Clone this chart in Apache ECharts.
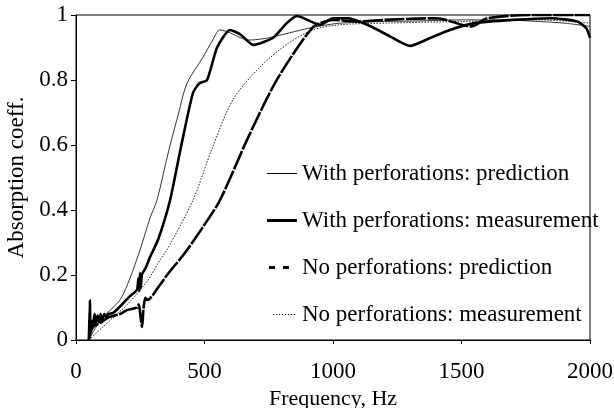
<!DOCTYPE html>
<html>
<head>
<meta charset="utf-8">
<script src="https://cdn.jsdelivr.net/npm/echarts@6/dist/echarts.min.js"></script>
<style>
html,body{margin:0;padding:0;background:#fff;}
#c{width:614px;height:408px;}
</style>
</head>
<body>
<div id="c"></div>
<script>
// Series names
const seriesNames = [
  'With perforations: prediction',
  'With perforations: measurement',
  'No perforations: prediction',
  'No perforations: measurement'
];
// With perforations: prediction (thin solid)
const wpPredF = [50, 70, 105, 171, 210, 249, 288, 315, 360, 400, 432, 494, 530, 560, 600, 640, 677, 750, 830, 910, 1027, 1200, 1350, 1500, 1650, 1800, 1900, 2000];
const wpPredA = [0, 0.03, 0.07, 0.123, 0.19, 0.277, 0.375, 0.43, 0.58, 0.7, 0.79, 0.87, 0.92, 0.954, 0.945, 0.93, 0.923, 0.93, 0.945, 0.96, 0.975, 0.98, 0.982, 0.985, 0.985, 0.98, 0.975, 0.965];
// With perforations: measurement (thick solid)
const wpMeasF = [50, 54, 56, 60, 66, 72, 78, 84, 90, 96, 102, 110, 118, 126, 144, 180, 210, 237, 243, 247, 249, 252, 256, 262, 270, 288, 320, 366, 410, 455, 480, 510, 549, 599, 640, 689, 767, 820, 860, 950, 1000, 1060, 1144, 1220, 1300, 1380, 1455, 1550, 1700, 1850, 1950, 1985, 2000];
const wpMeasA = [0, 0.123, 0.03, 0.06, 0.04, 0.08, 0.05, 0.075, 0.055, 0.08, 0.06, 0.08, 0.07, 0.08, 0.083, 0.11, 0.135, 0.154, 0.19, 0.15, 0.206, 0.16, 0.2, 0.21, 0.22, 0.255, 0.31, 0.43, 0.6, 0.76, 0.79, 0.8, 0.9, 0.954, 0.94, 0.908, 0.93, 0.975, 0.997, 0.97, 0.99, 0.99, 0.966, 0.935, 0.905, 0.93, 0.954, 0.975, 0.985, 0.99, 0.98, 0.96, 0.93];
// No perforations: prediction (thick dashed)
const npPredF = [50, 66, 100, 127, 171, 198, 237, 244, 250, 257, 263, 270, 276, 327, 354, 416, 444, 500, 560, 665, 767, 845, 922, 950, 1000, 1100, 1200, 1400, 1540, 1600, 1800, 2000];
const npPredA = [0, 0.04, 0.055, 0.07, 0.08, 0.092, 0.1, 0.11, 0.08, 0.04, 0.1, 0.13, 0.123, 0.17, 0.2, 0.26, 0.29, 0.355, 0.43, 0.615, 0.78, 0.88, 0.963, 0.975, 0.985, 0.98, 0.985, 0.99, 0.965, 0.99, 1.0, 1.0];
// No perforations: measurement (thin dotted)
const npMeasF = [50, 105, 132, 200, 276, 327, 354, 455, 530, 611, 716, 821, 922, 1027, 1200, 1500, 1800, 2000];
const npMeasA = [0, 0.04, 0.06, 0.11, 0.18, 0.246, 0.277, 0.43, 0.59, 0.74, 0.84, 0.91, 0.954, 0.97, 0.975, 0.98, 0.985, 0.975];
// Axis ticks
const xTicks = [0, 500, 1000, 1500, 2000];
const yTicks = [0, 0.2, 0.4, 0.6, 0.8, 1];

function pairs(f, a) { return f.map((v, i) => [v, a[i]]); }

const font = '"Liberation Serif", "Times New Roman", serif';
// legend icons: 30x14 boxes with the line drawn in the middle
const iconThin = 'path://M0,0M30,14M0,6.5H30V7.5H0Z';
const iconThick = 'path://M0,0M30,14M0,5.5H30V8.5H0Z';
const iconDash = 'path://M0,0M30,14M2,5.5H8V8.5H2ZM16,5.5H22V8.5H16Z';
let dots = 'path://M0,0M30,14';
for (let x = 6; x < 30; x += 3) dots += 'M' + x + ',6.5H' + (x + 1.2) + 'V7.5H' + x + 'Z';

const chart = echarts.init(document.getElementById('c'), null, {renderer: 'canvas'});
chart.setOption({
  animation: false,
  backgroundColor: '#fff',
  grid: {left: 76, right: 24, top: 15, bottom: 68, show: true, borderColor: '#000', borderWidth: 1,
         backgroundColor: 'transparent', containLabel: false, outerBoundsMode: 'none'},
  xAxis: {
    type: 'value', min: xTicks[0], max: xTicks[xTicks.length - 1], interval: 500,
    name: 'Frequency, Hz', nameLocation: 'middle', nameGap: 42,
    nameTextStyle: {fontFamily: font, fontSize: 22, color: '#000'},
    axisLine: {lineStyle: {color: '#000', width: 1}},
    axisTick: {show: true, length: 4, lineStyle: {color: '#000'}},
    axisLabel: {fontFamily: font, fontSize: 23, color: '#000', margin: 20, formatter: v => String(v)},
    splitLine: {show: false}
  },
  yAxis: {
    type: 'value', min: yTicks[0], max: yTicks[yTicks.length - 1], interval: 0.2,
    name: 'Absorption coeff.', nameLocation: 'middle', nameGap: 46,
    nameTextStyle: {fontFamily: font, fontSize: 23, color: '#000'},
    axisLine: {show: true, lineStyle: {color: '#000', width: 1}},
    axisTick: {show: true, length: 5, lineStyle: {color: '#000'}},
    axisLabel: {fontFamily: font, fontSize: 23, color: '#000', margin: 8, formatter: v => String(v)},
    splitLine: {show: false}
  },
  legend: {
    orient: 'vertical', left: 262, top: 157,
    itemWidth: 30, itemHeight: 14, itemGap: 24,
    textStyle: {fontFamily: font, fontSize: 23, color: '#000'},
    data: [
      {name: seriesNames[0], icon: iconThin},
      {name: seriesNames[1], icon: iconThick},
      {name: seriesNames[2], icon: iconDash},
      {name: seriesNames[3], icon: dots}
    ]
  },
  series: [
    {name: seriesNames[0], type: 'line', data: pairs(wpPredF, wpPredA), smooth: 0.3, showSymbol: false, symbol: 'none',
     lineStyle: {color: '#000', width: 0.8}, itemStyle: {color: '#000'}},
    {name: seriesNames[1], type: 'line', data: pairs(wpMeasF, wpMeasA), smooth: 0.2, showSymbol: false, symbol: 'none',
     lineStyle: {color: '#000', width: 2.6}, itemStyle: {color: '#000'}},
    {name: seriesNames[2], type: 'line', data: pairs(npPredF, npPredA), smooth: 0.3, showSymbol: false, symbol: 'none',
     lineStyle: {color: '#000', width: 2.6, type: [20, 1.5]}, itemStyle: {color: '#000'}},
    {name: seriesNames[3], type: 'line', data: pairs(npMeasF, npMeasA), smooth: 0.3, showSymbol: false, symbol: 'none',
     lineStyle: {color: '#000', width: 0.9, type: [1.5, 1.5]}, itemStyle: {color: '#000'}}
  ]
});
</script>
</body>
</html>
